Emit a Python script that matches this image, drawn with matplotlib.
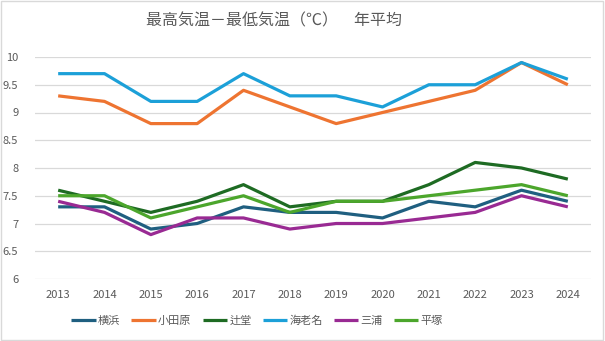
import matplotlib
matplotlib.use("Agg")
import matplotlib.pyplot as plt

plt.rcParams['font.family'] = ['Noto Sans CJK JP', 'DejaVu Sans']

# データ
years = [2013, 2014, 2015, 2016, 2017, 2018, 2019, 2020, 2021, 2022, 2023, 2024]
yokohama = [7.3, 7.3, 6.9, 7.0, 7.3, 7.2, 7.2, 7.1, 7.4, 7.3, 7.6, 7.4]
odawara = [9.3, 9.2, 8.8, 8.8, 9.4, 9.1, 8.8, 9.0, 9.2, 9.4, 9.9, 9.5]
tsujido = [7.6, 7.4, 7.2, 7.4, 7.7, 7.3, 7.4, 7.4, 7.7, 8.1, 8.0, 7.8]
ebina = [9.7, 9.7, 9.2, 9.2, 9.7, 9.3, 9.3, 9.1, 9.5, 9.5, 9.9, 9.6]
miura = [7.4, 7.2, 6.8, 7.1, 7.1, 6.9, 7.0, 7.0, 7.1, 7.2, 7.5, 7.3]
hiratsuka = [7.5, 7.5, 7.1, 7.3, 7.5, 7.2, 7.4, 7.4, 7.5, 7.6, 7.7, 7.5]

series = [
    ("横浜", yokohama, "#1F5F80"),
    ("小田原", odawara, "#EE7431"),
    ("辻堂", tsujido, "#1E6B23"),
    ("海老名", ebina, "#1CA0D8"),
    ("三浦", miura, "#992A93"),
    ("平塚", hiratsuka, "#4CA62C"),
]

fig = plt.figure(figsize=(6.05, 3.41), dpi=100)
ax = fig.add_axes([35/605, 1-279/341, (591-35)/605, (279-57)/341])

x = list(range(len(years)))
for name, vals, col in series:
    ax.plot(x, vals, color=col, lw=2.3, label=name, solid_capstyle='butt')

ax.set_xlim(-0.5, len(years) - 0.5)
ax.set_ylim(6, 10)
ax.set_yticks([6, 6.5, 7, 7.5, 8, 8.5, 9, 9.5, 10])
ax.set_yticklabels(["6", "6.5", "7", "7.5", "8", "8.5", "9", "9.5", "10"])
ax.set_xticks(x)
ax.set_xticklabels([str(y) for y in years])
ax.tick_params(length=0, labelsize=8, colors="#595959", pad=8)
ax.tick_params(axis='y', pad=12)
ax.grid(axis='y', color="#D9D9D9", lw=0.9)
ax.set_axisbelow(True)
for s in ax.spines.values():
    s.set_visible(False)

fig.text(274/605, 1-21/341, "最高気温－最低気温（℃）　年平均", ha='center', va='center',
         fontsize=11.5, color="#595959")

ax.legend(loc='center', bbox_to_anchor=(257/605, 1-321/341), bbox_transform=fig.transFigure,
          ncol=6, frameon=False, fontsize=8, handlelength=2.2, handletextpad=0.2,
          columnspacing=1.0, labelcolor="#595959")

fig.patches.append(plt.Rectangle((0.002, 0.003), 0.995, 0.994, transform=fig.transFigure,
                                 fill=False, edgecolor="#D9D9D9", lw=1))

fig.savefig("out.png", dpi=100)
